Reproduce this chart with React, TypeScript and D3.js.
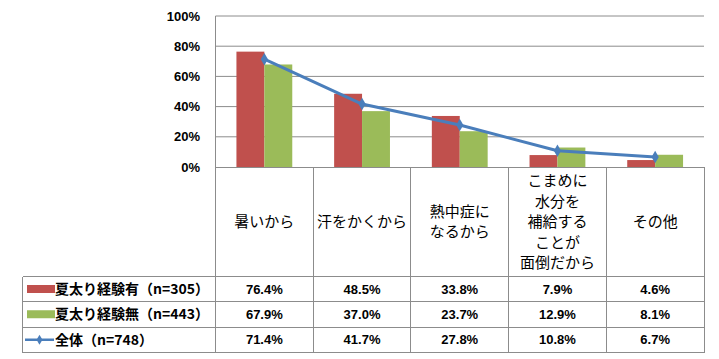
import React, { useRef, useEffect } from 'react';
import * as d3 from 'd3';

// categories (multi-line labels split by '\n')
const categories = ['暑いから', '汗をかくから', '熱中症に\nなるから', 'こまめに\n水分を\n補給する\nことが\n面倒だから', 'その他'];
const seriesNames = ['夏太り経験有（n=305）', '夏太り経験無（n=443）', '全体（n=748）'];
const withGain = [76.4, 48.5, 33.8, 7.9, 4.6];
const withoutGain = [67.9, 37.0, 23.7, 12.9, 8.1];
const overall = [71.4, 41.7, 27.8, 10.8, 6.7];
const yTicks = [0, 20, 40, 60, 80, 100];

const RED = '#c0504d';
const GREEN = '#9bbb59';
const BLUE = '#4a7ebb';
const GRID = '#8c8c8c';

const App: React.FC = () => {
  const svgRef = useRef<SVGSVGElement | null>(null);

  useEffect(() => {
    if (!svgRef.current) return;
    const svg = d3.select(svgRef.current);
    svg.selectAll('*').remove();

    const width = 719;
    const height = 359;
    const plotLeft = 215.5;
    const plotRight = 704;
    const plotTop = 16;
    const plotBottom = 167;
    const tableLeft = 22.5;
    const rowLines = [276.5, 301.5, 327, 352.5];

    svg.append('rect').attr('width', width).attr('height', height).attr('fill', '#fff');

    const x = d3.scaleBand<string>()
      .domain(categories)
      .range([plotLeft, plotRight])
      .padding(0);

    const xSub = d3.scaleBand<string>()
      .domain(['有', '無'])
      .range([0, x.bandwidth()])
      .paddingInner(0)
      .paddingOuter(0.75);

    const y = d3.scaleLinear().domain([0, 100]).range([plotBottom, plotTop]);

    // gridlines
    svg.append('g')
      .selectAll('line')
      .data(yTicks.filter(t => t > 0))
      .enter()
      .append('line')
      .attr('x1', plotLeft)
      .attr('x2', plotRight)
      .attr('y1', d => y(d))
      .attr('y2', d => y(d))
      .attr('stroke', GRID)
      .attr('stroke-width', 1);

    // y tick labels
    svg.append('g')
      .selectAll('text')
      .data(yTicks)
      .enter()
      .append('text')
      .attr('x', 200)
      .attr('y', d => y(d))
      .attr('dy', '0.35em')
      .attr('text-anchor', 'end')
      .attr('font-family', 'Liberation Sans, Arial, sans-serif')
      .attr('font-weight', 'bold')
      .attr('font-size', 13)
      .attr('fill', '#000')
      .text(d => `${d}%`);

    // bars
    const bars = svg.append('g');
    bars.selectAll('rect.red')
      .data(withGain)
      .enter()
      .append('rect')
      .attr('class', 'red')
      .attr('x', (_, i) => (x(categories[i]) || 0) + (xSub('有') || 0))
      .attr('y', d => y(d))
      .attr('width', xSub.bandwidth())
      .attr('height', d => plotBottom - y(d))
      .attr('fill', RED);
    bars.selectAll('rect.green')
      .data(withoutGain)
      .enter()
      .append('rect')
      .attr('class', 'green')
      .attr('x', (_, i) => (x(categories[i]) || 0) + (xSub('無') || 0))
      .attr('y', d => y(d))
      .attr('width', xSub.bandwidth())
      .attr('height', d => plotBottom - y(d))
      .attr('fill', GREEN);

    // line series
    const cx = (i: number) => (x(categories[i]) || 0) + x.bandwidth() / 2;
    const line = d3.line<number>()
      .x((_, i) => cx(i))
      .y(d => y(d));
    svg.append('path')
      .datum(overall)
      .attr('d', line)
      .attr('fill', 'none')
      .attr('stroke', BLUE)
      .attr('stroke-width', 3)
      .attr('stroke-linejoin', 'round');
    const diamond = d3.symbol().type(d3.symbolDiamond).size(45);
    svg.append('g')
      .selectAll('path')
      .data(overall)
      .enter()
      .append('path')
      .attr('d', diamond)
      .attr('transform', (d, i) => `translate(${cx(i)},${y(d)})`)
      .attr('fill', BLUE);

    // table lines
    const t = svg.append('g').attr('stroke', GRID).attr('stroke-width', 1).attr('shape-rendering', 'crispEdges');
    t.append('line').attr('x1', plotLeft).attr('x2', plotLeft).attr('y1', plotTop).attr('y2', rowLines[3]);
    t.append('line').attr('x1', plotLeft).attr('x2', plotRight).attr('y1', plotBottom).attr('y2', plotBottom);
    categories.forEach(c => {
      const xe = (x(c) || 0) + x.bandwidth();
      t.append('line').attr('x1', xe).attr('x2', xe).attr('y1', plotBottom).attr('y2', rowLines[3]);
    });
    t.append('line').attr('x1', tableLeft).attr('x2', tableLeft).attr('y1', rowLines[0]).attr('y2', rowLines[3]);
    rowLines.forEach(ry => {
      t.append('line').attr('x1', tableLeft).attr('x2', plotRight).attr('y1', ry).attr('y2', ry);
    });

    // category labels
    const catMid = (plotBottom + rowLines[0]) / 2;
    const lh = 20.5;
    categories.forEach((c, i) => {
      const lines = c.split('\n');
      const txt = svg.append('text')
        .attr('text-anchor', 'middle')
        .attr('font-family', 'Noto Sans CJK JP, sans-serif')
        .attr('font-size', 15)
        .attr('fill', '#000');
      lines.forEach((l, j) => {
        txt.append('tspan')
          .attr('x', cx(i))
          .attr('y', catMid + (j - (lines.length - 1) / 2) * lh)
          .attr('dy', '0.36em')
          .text(l);
      });
    });

    // legend rows and values
    const rows = [withGain, withoutGain, overall];
    rows.forEach((vals, r) => {
      const cy = (rowLines[r] + rowLines[r + 1]) / 2;
      if (r < 2) {
        svg.append('rect')
          .attr('x', 27)
          .attr('y', cy - 4)
          .attr('width', 28)
          .attr('height', 8)
          .attr('fill', r === 0 ? RED : GREEN);
      } else {
        svg.append('line')
          .attr('x1', 25).attr('x2', 54)
          .attr('y1', cy).attr('y2', cy)
          .attr('stroke', BLUE).attr('stroke-width', 2.5);
        svg.append('path')
          .attr('d', d3.symbol().type(d3.symbolDiamond).size(30))
          .attr('transform', `translate(39.5,${cy})`)
          .attr('fill', BLUE);
      }
      svg.append('text')
        .attr('x', 55)
        .attr('y', cy)
        .attr('dy', '0.36em')
        .attr('font-family', 'Noto Sans CJK JP, sans-serif')
        .attr('font-weight', 'bold')
        .attr('font-size', 14)
        .attr('fill', '#000')
        .text(seriesNames[r]);
      svg.append('g')
        .selectAll('text')
        .data(vals)
        .enter()
        .append('text')
        .attr('x', (_, i) => cx(i))
        .attr('y', cy)
        .attr('dy', '0.36em')
        .attr('text-anchor', 'middle')
        .attr('font-family', 'Liberation Sans, Arial, sans-serif')
        .attr('font-weight', 'bold')
        .attr('font-size', 13)
        .attr('fill', '#000')
        .text(d => `${d.toFixed(1)}%`);
    });
  }, []);

  return (
    <svg ref={svgRef} width={719} height={359} style={{ position: 'absolute', left: 0, top: 0 }}></svg>
  );
};

export default App;
